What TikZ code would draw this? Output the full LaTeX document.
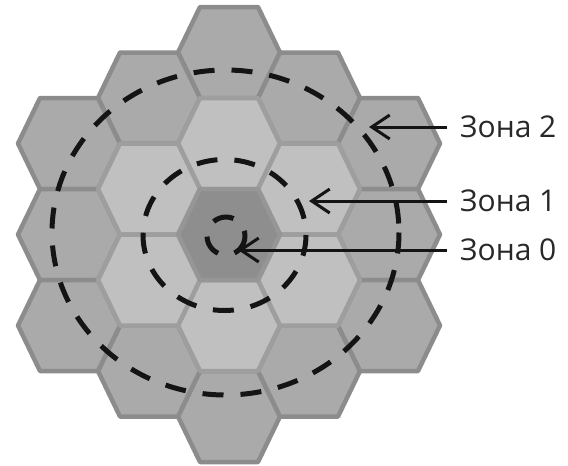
\documentclass[tikz,border=0pt]{standalone}
\usepackage{fontspec}
\setmainfont{Open Sans}
\usetikzlibrary{arrows.meta}
\definecolor{hexouter}{RGB}{170,170,170}
\definecolor{hexouteredge}{RGB}{140,140,140}
\definecolor{hexinner}{RGB}{192,192,192}
\definecolor{hexinneredge}{RGB}{158,158,158}
\definecolor{hexcenter}{RGB}{142,142,142}
\definecolor{hexcenteredge}{RGB}{150,150,150}
\definecolor{zoneink}{RGB}{20,20,20}
\definecolor{labelink}{RGB}{40,40,40}
\tikzset{
  outerhex/.style={draw=hexouteredge, fill=hexouter, line width=4.5pt, line join=round},
  innerhex/.style={draw=hexinneredge, fill=hexinner, line width=4.5pt, line join=round},
  centerhex/.style={draw=hexcenteredge, fill=hexcenter, line width=4.5pt, line join=round},
  zoneline/.style={draw=zoneink, line width=5pt, dash pattern=on 21pt off 17pt},
  zonearrow/.style={-{Straight Barb[length=18pt,width=24pt,line width=3pt]}, line width=3pt, draw=zoneink},
  zonelabel/.style={font=\fontsize{30}{36}\selectfont, text=labelink, inner sep=0pt, inner xsep=13pt, anchor=west}
}

\begin{document}
\begin{tikzpicture}[x=1pt, y=-1pt]
\useasboundingbox (0,0) rectangle (568,466);

% Hex cells, outer ring
\foreach \q/\k in {0/-4, 0/4, 1/-3, 1/3, -1/-3, -1/3, 2/-2, 2/0, 2/2, -2/-2, -2/0, -2/2}
  \draw[outerhex, shift={({229+80*\q},{234.5+45.5*\k})}]
    (51,0) -- (29,45.5) -- (-29,45.5) -- (-51,0) -- (-29,-45.5) -- (29,-45.5) -- cycle;

% Hex cells, inner ring
\foreach \q/\k in {0/-2, 0/2, 1/-1, 1/1, -1/-1, -1/1}
  \draw[innerhex, shift={({229+80*\q},{234.5+45.5*\k})}]
    (51,0) -- (29,45.5) -- (-29,45.5) -- (-51,0) -- (-29,-45.5) -- (29,-45.5) -- cycle;

% Central cell
\draw[centerhex, shift={(229,234.5)}]
  (51,0) -- (29,45.5) -- (-29,45.5) -- (-51,0) -- (-29,-45.5) -- (29,-45.5) -- cycle;

% Zone boundaries
\draw[zoneline] (225.5,232.5) ellipse [x radius=173.5, y radius=162.5];
\draw[zoneline] (224.5,235) ellipse [x radius=81.5, y radius=75.5];
\draw[zoneline] (226,236) circle [radius=19];

% Labels
\node[zonelabel] (zone2) at (447,127) {Зона 2};
\node[zonelabel] (zone1) at (447,201) {Зона 1};
\node[zonelabel] (zone0) at (447,250) {Зона 0};

\coordinate (tip2) at (369,127);
\coordinate (tip1) at (309,201);
\coordinate (tip0) at (238,250);

% Arrows
\foreach \z in {2,1,0}
  \draw[zonearrow] (zone\z.west) -- (tip\z);

\end{tikzpicture}
\end{document}
